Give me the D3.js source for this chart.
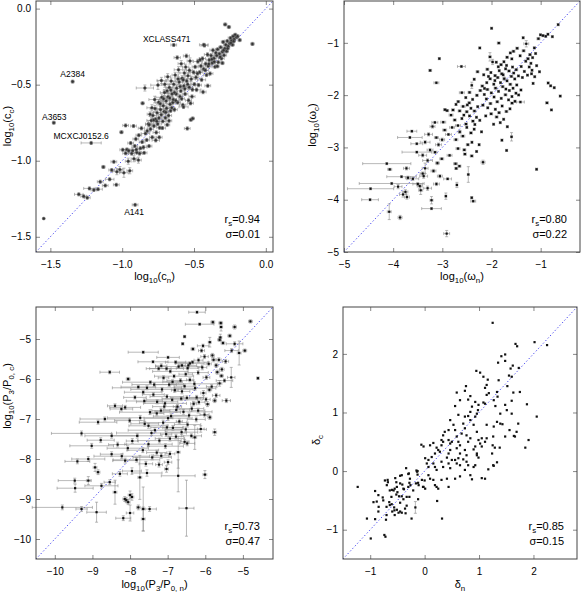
<!DOCTYPE html>
<html>
<head>
<meta charset="utf-8">
<script src="https://cdn.jsdelivr.net/npm/d3@7"></script>
<style>
	body { margin: 0; background: #fff; }
	svg text { font-family: "Liberation Sans", Arial, Helvetica, sans-serif; fill: #000; }
</style>
</head>
<body>
<svg id="chart" width="581" height="595"></svg>
<script>
	"use strict";

	// ---- data: [x, y, xerr, yerr] ----
	var concPoints = [
		[-1.302,-1.221,0.03,0.01],[-1.268,-1.234,0.02,0.01],[-1.243,-1.243,0.02,0.01],[-1.228,-1.182,0.04,0.01],[-1.197,-1.192,0.02,0.01],
		[-1.168,-1.187,0.03,0.01],[-1.153,-1.138,0.02,0.01],[-1.131,-1.041,0.012,0.01],[-1.118,-1.163,0.02,0.01],[-1.087,-1.122,0.03,0.01],
		[-1.073,-1.061,0.02,0.01],[-1.041,-1.158,0.02,0.01],
		[-1.058,-1.007,0.02,0.01],[-1.037,-1.072,0.03,0.02],[-1.016,-1.058,0.02,0.02],[-1.005,-0.812,0.012,0.01],[-0.996,-0.928,0.02,0.01],
		[-0.988,-1.079,0.03,0.03],[-0.976,-0.951,0.02,0.01],[-0.967,-0.926,0.03,0.01],[-0.958,-1.003,0.02,0.02],[-0.947,-1.066,0.02,0.02],
		[-0.941,-0.884,0.02,0.01],[-0.927,-0.934,0.03,0.02],[-0.918,-0.987,0.02,0.02],[-0.912,-0.903,0.02,0.01],[-0.898,-0.946,0.03,0.01],
		[-0.887,-0.996,0.02,0.02],[-0.884,-0.832,0.02,0.01],[-0.873,-0.918,0.02,0.01],[-0.858,-0.622,0.012,0.01],[-0.861,-0.877,0.02,0.01],
		[-0.847,-0.948,0.02,0.01],[-0.838,-0.821,0.03,0.01],[-0.829,-0.863,0.02,0.01],[-0.818,-0.758,0.02,0.02],[-0.813,-0.904,0.02,0.01],
		[-0.842,-0.522,0.06,0.02],[-0.976,-0.768,0.02,0.01],[-0.921,-0.772,0.02,0.01],
		[-0.955,-0.934,0.025,0.012],[-0.934,-0.952,0.02,0.012],[-0.902,-0.927,0.022,0.012],[-0.879,-0.952,0.02,0.012],[-0.852,-0.912,0.025,0.012],
		[-0.826,-0.804,0.02,0.012],[-0.866,-0.786,0.022,0.012],[-0.905,-0.857,0.02,0.012],
		[-0.803,-0.792,0.022,0.012],[-0.797,-0.735,0.031,0.018],[-0.791,-0.846,0.019,0.011],[-0.786,-0.702,0.024,0.02],[-0.779,-0.771,0.017,0.01],
		[-0.772,-0.657,0.033,0.021],[-0.768,-0.727,0.02,0.012],[-0.763,-0.814,0.022,0.011],[-0.757,-0.684,0.025,0.017],[-0.753,-0.758,0.028,0.012],
		[-0.746,-0.615,0.021,0.019],[-0.744,-0.719,0.018,0.01],[-0.739,-0.783,0.02,0.011],[-0.733,-0.664,0.034,0.02],[-0.728,-0.697,0.019,0.012],
		[-0.724,-0.583,0.042,0.022],[-0.717,-0.741,0.021,0.01],[-0.714,-0.638,0.02,0.018],[-0.708,-0.676,0.027,0.011],[-0.705,-0.552,0.03,0.02],
		[-0.699,-0.718,0.018,0.01],[-0.694,-0.607,0.023,0.017],[-0.691,-0.655,0.02,0.012],[-0.686,-0.764,0.017,0.01],[-0.681,-0.579,0.031,0.02],
		[-0.677,-0.703,0.021,0.011],[-0.672,-0.518,0.024,0.018],[-0.667,-0.628,0.02,0.012],[-0.663,-0.672,0.028,0.011],[-0.659,-0.476,0.032,0.02],
		[-0.653,-0.561,0.022,0.017],[-0.648,-0.617,0.019,0.012],
		[-0.812,-0.763,0.025,0.013],[-0.806,-0.694,0.02,0.015],[-0.793,-0.652,0.035,0.02],[-0.781,-0.733,0.022,0.012],[-0.774,-0.598,0.04,0.022],
		[-0.766,-0.866,0.026,0.011],[-0.759,-0.741,0.021,0.012],[-0.751,-0.503,0.05,0.028],[-0.742,-0.846,0.02,0.01],[-0.735,-0.625,0.024,0.016],
		[-0.727,-0.472,0.03,0.02],[-0.72,-0.785,0.022,0.01],[-0.712,-0.593,0.028,0.018],[-0.703,-0.497,0.022,0.02],[-0.697,-0.682,0.02,0.011],
		[-0.688,-0.541,0.026,0.018],[-0.683,-0.448,0.02,0.02],[-0.674,-0.737,0.019,0.011],[-0.669,-0.588,0.025,0.016],[-0.661,-0.535,0.024,0.018],
		[-0.655,-0.652,0.02,0.012],
		[-0.644,-0.598,0.022,0.011],[-0.641,-0.497,0.031,0.019],[-0.636,-0.664,0.02,0.011],[-0.631,-0.437,0.022,0.018],[-0.624,-0.562,0.018,0.012],
		[-0.621,-0.523,0.041,0.02],[-0.614,-0.618,0.02,0.011],[-0.608,-0.402,0.03,0.02],[-0.603,-0.483,0.022,0.018],[-0.598,-0.577,0.019,0.011],
		[-0.592,-0.541,0.027,0.012],[-0.589,-0.362,0.022,0.02],[-0.583,-0.458,0.02,0.017],[-0.578,-0.633,0.022,0.011],[-0.571,-0.508,0.018,0.012],
		[-0.567,-0.423,0.031,0.02],[-0.562,-0.561,0.02,0.011],[-0.558,-0.384,0.022,0.019],[-0.551,-0.476,0.028,0.012],[-0.547,-0.788,0.02,0.011],
		[-0.542,-0.442,0.019,0.018],[-0.538,-0.603,0.021,0.011],[-0.533,-0.517,0.022,0.012],[-0.528,-0.344,0.02,0.02],[-0.522,-0.731,0.012,0.01],
		[-0.509,-0.722,0.012,0.01],[-0.519,-0.463,0.029,0.018],[-0.514,-0.578,0.021,0.011],[-0.503,-0.418,0.02,0.012],[-0.498,-0.497,0.022,0.011],
		[-0.573,-0.646,0.032,0.011],[-0.524,-0.622,0.02,0.011],[-0.482,-0.534,0.03,0.012],[-0.553,-0.311,0.021,0.012],[-0.617,-0.322,0.022,0.012],
		[-0.636,-0.552,0.02,0.013],[-0.627,-0.604,0.025,0.012],[-0.611,-0.462,0.022,0.015],[-0.596,-0.512,0.028,0.014],[-0.586,-0.593,0.02,0.012],
		[-0.575,-0.468,0.025,0.016],[-0.564,-0.527,0.02,0.013],[-0.544,-0.498,0.022,0.014],[-0.532,-0.406,0.02,0.016],[-0.511,-0.532,0.025,0.012],
		[-0.492,-0.383,0.021,0.011],[-0.486,-0.452,0.02,0.012],[-0.473,-0.348,0.031,0.012],[-0.468,-0.503,0.02,0.011],[-0.461,-0.418,0.022,0.012],
		[-0.452,-0.377,0.019,0.011],[-0.447,-0.468,0.028,0.012],[-0.441,-0.328,0.021,0.011],[-0.433,-0.397,0.02,0.012],[-0.427,-0.242,0.024,0.011],
		[-0.419,-0.363,0.029,0.012],[-0.413,-0.436,0.02,0.011],[-0.406,-0.302,0.022,0.012],[-0.401,-0.378,0.019,0.011],[-0.394,-0.338,0.021,0.012],
		[-0.388,-0.427,0.02,0.011],[-0.381,-0.309,0.022,0.012],[-0.373,-0.357,0.018,0.011],[-0.368,-0.273,0.021,0.012],[-0.361,-0.327,0.019,0.011],
		[-0.354,-0.382,0.02,0.012],[-0.348,-0.291,0.022,0.011],[-0.404,-0.507,0.02,0.011],[-0.437,-0.548,0.021,0.012],[-0.476,-0.427,0.022,0.012],
		[-0.458,-0.337,0.02,0.012],[-0.422,-0.405,0.024,0.012],[-0.397,-0.364,0.02,0.012],[-0.376,-0.333,0.021,0.012],[-0.359,-0.349,0.02,0.012],
		[-0.342,-0.308,0.018,0.011],[-0.336,-0.268,0.014,0.01],[-0.331,-0.352,0.02,0.011],[-0.323,-0.297,0.017,0.01],[-0.315,-0.254,0.013,0.01],
		[-0.309,-0.328,0.019,0.011],[-0.302,-0.283,0.016,0.01],[-0.297,-0.219,0.013,0.01],[-0.291,-0.306,0.018,0.011],[-0.286,-0.262,0.014,0.01],
		[-0.279,-0.238,0.016,0.01],[-0.283,-0.104,0.012,0.01],[-0.273,-0.281,0.013,0.01],[-0.268,-0.213,0.017,0.01],[-0.262,-0.247,0.012,0.01],
		[-0.257,-0.121,0.012,0.01],[-0.251,-0.228,0.013,0.01],[-0.246,-0.193,0.016,0.01],[-0.239,-0.212,0.012,0.01],[-0.232,-0.238,0.013,0.01],
		[-0.227,-0.182,0.012,0.01],[-0.221,-0.201,0.012,0.01],[-0.213,-0.172,0.011,0.01],[-0.204,-0.188,0.012,0.01],[-0.182,-0.207,0.012,0.01],
		[-0.338,-0.379,0.013,0.01],[-0.302,-0.358,0.012,0.01],[-0.093,-0.232,0.012,0.01],[-0.318,-0.318,0.015,0.01],[-0.294,-0.274,0.014,0.01],
		[-0.266,-0.262,0.014,0.01],[-0.243,-0.226,0.013,0.01],[-0.224,-0.214,0.012,0.01],[-0.197,-0.181,0.012,0.01],
		[-0.432,-0.238,0.03,0.01],
		[-1.345,-0.48,0.01,0.01],[-1.476,-0.75,0.01,0.01],[-1.216,-0.883,0.07,0.01],[-0.91,-1.29,0.02,0.01],
		[-0.641,-0.239,0.02,0.01],[-1.546,-1.38,0.005,0.005]
	];

	var omegaPoints = [
		[-0.644,-0.652,0.02,0.02],[-0.953,-0.862,0.02,0.02],[-0.897,-0.874,0.02,0.02],[-1.004,-0.847,0.02,0.02],[-0.852,-0.836,0.02,0.02],
		[-0.762,-0.882,0.02,0.02],[-1.356,-0.903,0.02,0.02],[-1.046,-0.921,0.03,0.02],[-1.128,-1.097,0.02,0.02],[-1.103,-1.204,0.02,0.02],
		[-1.217,-1.226,0.03,0.02],[-1.164,-1.283,0.02,0.02],[-1.293,-1.018,0.05,0.06],[-1.258,-1.304,0.03,0.02],[-1.198,-1.392,0.02,0.02],
		[-1.082,-1.437,0.02,0.02],[-1.024,-1.553,0.02,0.02],[-1.176,-1.524,0.02,0.02],[-1.303,-1.352,0.02,0.02],[-1.347,-1.152,0.03,0.02],
		[-1.418,-1.248,0.02,0.02],[-1.396,-1.453,0.02,0.02],[-1.332,-1.547,0.02,0.02],[-1.268,-1.618,0.02,0.02],[-1.121,-1.648,0.02,0.02],
		[-1.154,-1.776,0.02,0.02],[-0.848,-1.768,0.02,0.02],[-0.797,-1.822,0.02,0.02],[-0.724,-1.858,0.02,0.02],[-0.602,-2.018,0.02,0.02],
		[-0.872,-2.148,0.03,0.02],[-0.781,-2.283,0.02,0.02],[-1.412,-2.132,0.08,0.02],[-1.523,-2.118,0.02,0.02],[-1.083,-3.418,0.02,0.02],
		[-1.233,-1.462,0.02,0.02],[-1.372,-1.663,0.02,0.02],[-1.186,-1.592,0.02,0.02],
		[-1.478,-1.104,0.03,0.02],[-1.553,-1.162,0.03,0.02],[-1.617,-1.193,0.02,0.02],[-1.852,-1.004,0.03,0.02],[-1.998,-0.722,0.02,0.02],
		[-1.586,-1.307,0.02,0.02],[-1.683,-1.276,0.03,0.02],[-1.747,-1.362,0.02,0.02],[-1.806,-1.418,0.03,0.02],[-1.903,-1.371,0.02,0.02],
		[-2.031,-1.268,0.03,0.08],[-1.978,-1.366,0.02,0.05],[-2.238,-1.098,0.02,0.02],[-1.497,-1.514,0.03,0.02],[-1.572,-1.463,0.02,0.02],
		[-1.644,-1.538,0.03,0.02],[-1.713,-1.497,0.02,0.02],[-1.792,-1.592,0.03,0.02],[-1.843,-1.533,0.02,0.02],[-1.927,-1.627,0.03,0.02],
		[-2.012,-1.568,0.02,0.02],[-2.084,-1.506,0.03,0.02],[-2.158,-1.611,0.02,0.02],[-1.452,-1.633,0.02,0.02],[-1.527,-1.691,0.02,0.02],
		[-1.596,-1.642,0.03,0.02],[-1.684,-1.727,0.02,0.02],[-1.741,-1.686,0.03,0.03],[-1.817,-1.762,0.02,0.02],[-1.874,-1.664,0.03,0.02],
		[-1.953,-1.791,0.02,0.02],[-2.027,-1.688,0.03,0.02],[-2.096,-1.762,0.02,0.02],[-2.187,-1.826,0.03,0.02],[-1.486,-1.806,0.02,0.02],
		[-1.562,-1.868,0.02,0.02],[-1.618,-1.793,0.03,0.02],[-1.707,-1.884,0.02,0.02],[-1.773,-1.838,0.03,0.02],[-1.857,-1.928,0.02,0.02],
		[-1.918,-1.866,0.03,0.02],[-2.004,-1.957,0.02,0.02],[-2.083,-1.892,0.03,0.02],[-2.146,-1.988,0.02,0.02],[-2.227,-1.912,0.03,0.02],
		[-1.503,-1.963,0.02,0.02],[-1.584,-2.027,0.02,0.02],[-1.653,-2.091,0.02,0.02],[-1.716,-1.994,0.03,0.02],[-1.802,-2.062,0.02,0.02],
		[-1.883,-2.127,0.03,0.02],[-1.948,-2.036,0.02,0.02],[-2.021,-2.161,0.03,0.02],[-2.104,-2.074,0.02,0.02],[-2.176,-2.192,0.03,0.02],
		[-1.624,-2.262,0.02,0.02],[-1.697,-2.313,0.03,0.02],[-1.784,-2.208,0.02,0.02],[-1.846,-2.336,0.03,0.02],[-1.922,-2.271,0.02,0.02],
		[-2.007,-2.358,0.03,0.02],[-2.076,-2.243,0.02,0.02],[-1.753,-2.462,0.02,0.02],[-1.822,-2.526,0.02,0.02],[-1.896,-2.418,0.03,0.02],
		[-1.957,-2.557,0.02,0.02],[-1.678,-2.604,0.02,0.02],[-1.592,-2.797,0.02,0.08],[-1.788,-2.862,0.02,0.02],[-1.693,-3.058,0.02,0.02],
		[-2.172,-3.284,0.04,0.04],[-2.238,-2.482,0.02,0.02],[-2.117,-2.398,0.02,0.02],[-1.582,-2.153,0.03,0.02],[-1.448,-1.997,0.02,0.02],
		[-1.401,-1.902,0.02,0.02],[-1.637,-1.912,0.02,0.02],[-1.931,-1.722,0.02,0.02],[-2.062,-1.643,0.02,0.02],[-1.763,-1.612,0.02,0.02],
		[-1.862,-1.458,0.02,0.02],[-2.143,-1.872,0.02,0.02],[-1.548,-1.578,0.02,0.02],[-1.694,-1.432,0.02,0.02],
		[-2.284,-1.553,0.03,0.02],[-2.352,-1.697,0.02,0.02],[-2.401,-1.812,0.02,0.06],[-2.447,-1.948,0.03,0.02],[-2.612,-1.452,0.08,0.02],
		[-3.061,-1.302,0.02,0.02],[-3.248,-1.528,0.03,0.02],[-3.121,-1.764,0.05,0.02],[-2.297,-2.004,0.03,0.02],[-2.384,-2.082,0.02,0.02],
		[-2.452,-2.148,0.03,0.02],[-2.523,-2.047,0.02,0.02],[-2.604,-1.953,0.05,0.02],[-2.676,-2.124,0.03,0.02],[-2.281,-2.221,0.02,0.02],
		[-2.347,-2.304,0.03,0.02],[-2.418,-2.252,0.02,0.02],[-2.503,-2.318,0.03,0.02],[-2.577,-2.216,0.04,0.02],[-2.648,-2.302,0.03,0.02],
		[-2.722,-2.178,0.02,0.02],[-2.783,-2.284,0.03,0.02],[-2.306,-2.424,0.02,0.02],[-2.378,-2.497,0.03,0.02],[-2.447,-2.398,0.02,0.02],
		[-2.518,-2.553,0.03,0.02],[-2.602,-2.448,0.02,0.02],[-2.683,-2.582,0.05,0.02],[-2.748,-2.476,0.03,0.02],[-2.823,-2.382,0.04,0.02],
		[-2.902,-2.296,0.03,0.02],[-2.947,-2.278,0.03,0.02],[-2.353,-2.652,0.02,0.02],[-2.418,-2.723,0.03,0.02],[-2.502,-2.617,0.02,0.02],
		[-2.583,-2.784,0.04,0.02],[-2.646,-2.702,0.03,0.03],[-2.724,-2.852,0.04,0.02],[-2.801,-2.618,0.05,0.02],[-2.876,-2.752,0.06,0.02],
		[-2.953,-2.668,0.04,0.02],[-2.981,-2.517,0.05,0.02],[-3.152,-2.522,0.06,0.02],[-3.004,-2.853,0.05,0.03],[-3.078,-2.948,0.06,0.03],
		[-3.121,-2.812,0.04,0.02],[-2.398,-2.902,0.02,0.02],[-2.482,-2.948,0.03,0.02],[-2.553,-3.047,0.03,0.02],[-2.682,-3.022,0.04,0.02],
		[-2.541,-3.128,0.03,0.02],[-2.402,-3.163,0.03,0.02],[-2.303,-3.078,0.02,0.02],[-2.732,-3.312,0.04,0.02],[-2.718,-3.402,0.03,0.02],
		[-2.652,-3.358,0.03,0.02],[-2.472,-3.518,0.02,0.15],[-2.893,-3.602,0.08,0.02],[-2.704,-3.718,0.02,0.05],
		[-2.402,-3.962,0.02,0.02],[-2.372,-4.028,0.05,0.02],[-2.928,-3.932,0.02,0.06],[-2.912,-4.648,0.06,0.06],[-3.148,-3.092,0.04,0.02],
		[-3.012,-3.218,0.04,0.02],[-2.853,-3.152,0.05,0.02],[-2.252,-2.948,0.02,0.02],[-2.203,-2.702,0.02,0.02],[-2.338,-2.562,0.02,0.02],
		[-2.562,-2.382,0.02,0.02],[-2.492,-2.188,0.02,0.02],
		[-3.20,-2.60,0.05,0.03],[-3.28,-2.75,0.08,0.03],[-3.35,-2.90,0.10,0.03],[-3.62,-2.69,0.10,0.02],[-3.66,-2.81,0.25,0.02],
		[-3.52,-2.93,0.12,0.02],[-3.52,-3.09,0.30,0.02],[-3.25,-3.05,0.06,0.03],[-3.40,-3.15,0.08,0.03],[-3.30,-3.25,0.10,0.03],
		[-3.73,-3.40,0.06,0.03],[-4.13,-3.31,0.49,0.02],[-4.07,-3.42,0.04,0.02],[-3.83,-3.56,0.30,0.02],[-4.03,-3.69,0.66,0.02],
		[-3.46,-3.74,0.05,0.04],[-3.44,-3.82,0.04,0.08],[-3.75,-3.85,0.05,0.04],[-3.72,-3.95,0.05,0.04],[-3.22,-4.01,0.03,0.07],
		[-3.22,-4.17,0.20,0.02],[-4.46,-3.79,0.47,0.02],[-4.47,-4.00,0.17,0.02],[-4.08,-4.23,0.04,0.15],[-3.86,-4.34,0.04,0.04],
		[-3.35,-3.40,0.06,0.10],[-3.38,-3.55,0.08,0.04],[-3.60,-3.60,0.12,0.03],[-3.70,-3.58,0.05,0.03],[-3.90,-3.75,0.08,0.04],
		[-3.10,-3.30,0.04,0.03],[-3.18,-3.45,0.05,0.03],[-3.05,-3.55,0.05,0.03],[-3.12,-3.70,0.06,0.03],[-3.50,-3.70,0.10,0.03],
		[-3.30,-3.78,0.08,0.04],[-3.80,-3.90,0.07,0.05],[-3.40,-3.50,0.05,0.03]
	];

	var powerPoints = [
		[-6.22,-4.33,0.22,0.03],[-6.15,-4.63,0.38,0.03],[-5.80,-4.58,0.05,0.04],[-5.59,-4.60,0.05,0.04],[-5.58,-4.70,0.04,0.10],
		[-5.22,-4.70,0.05,0.05],[-4.80,-4.56,0.05,0.04],[-5.35,-4.92,0.05,0.04],[-5.60,-4.96,0.04,0.08],[-5.62,-5.02,0.05,0.04],
		[-6.55,-4.94,0.03,0.03],[-6.60,-5.12,0.03,0.03],[-5.88,-5.08,0.04,0.12],[-6.06,-5.17,0.15,0.04],[-6.33,-5.25,0.05,0.04],
		[-6.10,-5.29,0.08,0.04],[-5.53,-5.10,0.05,0.04],[-5.22,-5.12,0.22,0.05],[-5.30,-5.29,0.18,0.05],[-4.95,-5.29,0.05,0.04],
		[-5.10,-5.35,0.05,0.30],[-7.65,-5.33,0.40,0.03],[-6.99,-5.46,0.30,0.03],[-7.39,-5.57,0.40,0.03],[-7.17,-5.67,0.15,0.05],
		[-5.81,-5.41,0.05,0.05],[-5.64,-5.52,0.06,0.05],[-5.46,-5.56,0.08,0.05],[-5.71,-5.66,0.05,0.05],[-6.02,-5.44,0.10,0.05],
		[-6.18,-5.53,0.12,0.05],[-6.41,-5.61,0.38,0.04],[-6.62,-5.66,0.09,0.04],[-6.79,-5.58,0.27,0.04],[-5.56,-5.76,0.06,0.05],
		[-6.47,-5.73,0.30,0.04],[-7.03,-5.74,0.45,0.04],
		[-5.91,-5.62,0.07,0.05],[-6.34,-5.58,0.42,0.04],[-6.08,-5.71,0.12,0.06],[-5.68,-5.83,0.05,0.05],[-6.71,-5.69,0.61,0.04],
		[-6.52,-5.88,0.18,0.05],[-7.24,-5.74,0.33,0.04],[-5.97,-5.96,0.09,0.05],[-6.19,-5.84,0.27,0.05],[-6.83,-5.93,0.52,0.04],
		[-7.46,-6.08,0.74,0.04],[-5.62,-6.11,0.06,0.07],[-6.41,-6.02,0.09,0.05],[-5.83,-6.19,0.14,0.05],[-6.96,-6.14,0.38,0.05],
		[-6.27,-6.23,0.55,0.05],[-6.62,-6.31,0.21,0.06],[-7.15,-6.26,0.83,0.05],[-6.05,-6.35,0.07,0.06],[-5.71,-6.41,0.10,0.05],
		[-6.49,-6.47,0.44,0.05],[-7.38,-6.39,0.29,0.05],[-6.88,-6.52,0.68,0.05],[-6.17,-6.58,0.16,0.05],[-7.62,-6.55,0.48,0.05],
		[-5.94,-6.63,0.05,0.06],[-6.74,-6.69,0.11,0.05],[-7.07,-6.61,0.57,0.05],[-6.36,-6.74,0.32,0.06],[-8.13,-6.71,0.41,0.05],
		[-6.58,-6.82,0.76,0.06],[-7.29,-6.86,0.19,0.06],[-6.02,-6.89,0.12,0.06],[-6.91,-6.93,0.47,0.06],[-7.73,-6.97,0.87,0.06],
		[-6.24,-7.01,0.24,0.06],[-6.69,-7.06,0.08,0.06],[-7.12,-7.09,0.63,0.06],[-6.47,-7.14,0.35,0.06],[-7.51,-7.17,0.52,0.06],
		[-6.86,-7.22,0.27,0.06],[-6.12,-7.25,0.09,0.08],[-7.34,-7.28,0.71,0.06],[-6.63,-7.33,0.43,0.06],[-7.04,-7.38,0.15,0.06],
		[-7.81,-7.42,0.66,0.06],[-6.94,-7.49,0.39,0.06],[-7.22,-7.54,0.58,0.06],[-6.55,-7.57,0.12,0.06],
		[-5.78,-5.52,0.05,0.05],[-6.45,-5.66,0.22,0.05],[-6.93,-5.81,0.47,0.04],[-7.11,-5.97,0.14,0.05],[-6.66,-6.04,0.36,0.05],
		[-6.29,-6.12,0.62,0.05],[-7.55,-6.22,0.92,0.05],[-6.81,-6.28,0.09,0.05],[-5.89,-6.27,0.06,0.05],[-6.55,-6.18,0.28,0.05],
		[-7.02,-6.44,0.45,0.05],[-6.23,-6.46,0.19,0.05],[-7.28,-6.57,0.55,0.05],[-6.77,-6.77,0.35,0.06],[-6.43,-6.91,0.48,0.06],
		[-7.47,-6.83,0.81,0.06],[-6.31,-6.62,0.08,0.05],[-7.18,-6.79,0.24,0.06],[-6.99,-6.98,0.64,0.06],[-7.61,-7.12,0.37,0.06],
		[-6.52,-7.26,0.55,0.06],[-7.43,-7.35,0.93,0.06],[-6.78,-7.44,0.21,0.06],[-7.02,-7.21,0.43,0.06],[-6.19,-6.79,0.18,0.06],
		[-6.87,-6.07,0.26,0.05],[-7.36,-6.14,0.59,0.05],[-5.98,-6.51,0.11,0.05],[-6.64,-6.49,0.51,0.05],[-7.09,-6.69,0.31,0.06],
		[-8.40,-6.67,0.20,0.05],[-8.23,-6.75,0.30,0.05],[-8.01,-7.04,0.40,0.05],[-8.67,-7.00,0.66,0.05],[-8.85,-7.08,0.50,0.05],
		[-5.88,-6.96,0.05,0.05],[-5.75,-7.33,0.05,0.08],[-6.37,-7.42,0.27,0.05],[-6.28,-7.46,0.05,0.30],[-8.54,-5.83,0.26,0.04],
		[-8.05,-6.00,0.05,0.04],[-4.60,-5.98,0.03,0.03],[-5.49,-6.04,0.22,0.04],[-5.57,-5.92,0.05,0.04],[-5.31,-5.96,0.10,0.25],
		[-7.78,-6.20,0.46,0.04],[-7.65,-6.33,0.50,0.04],[-7.87,-6.46,0.30,0.04],[-5.44,-6.54,0.11,0.05],[-5.75,-6.54,0.05,0.05],
		[-9.29,-7.36,0.80,0.06],[-9.02,-7.67,0.58,0.06],[-8.78,-7.53,0.36,0.06],[-8.49,-7.42,0.71,0.06],[-8.33,-7.64,0.24,0.06],
		[-8.06,-7.73,0.55,0.06],[-7.94,-7.55,0.16,0.06],[-7.66,-7.78,0.42,0.06],[-7.51,-7.63,0.63,0.06],[-7.29,-7.84,0.27,0.06],
		[-7.06,-7.68,0.48,0.06],[-6.94,-7.87,0.13,0.06],[-6.72,-7.83,0.05,0.40],[-7.17,-7.92,0.20,0.06],[-8.49,-7.88,0.30,0.06],
		[-9.40,-8.06,0.33,0.06],[-9.11,-8.00,0.44,0.06],[-8.93,-8.21,0.05,0.10],[-8.85,-8.33,0.05,0.06],[-6.99,-8.08,0.10,0.06],
		[-7.03,-8.25,0.05,0.08],[-6.72,-8.42,0.45,0.40],[-6.01,-8.39,0.05,0.10],[-7.74,-8.46,0.05,0.55],[-8.27,-8.37,0.20,0.06],
		[-8.54,-8.58,0.15,0.06],[-9.47,-8.54,0.44,0.06],[-9.11,-8.54,0.05,0.10],[-8.76,-8.67,0.44,0.06],[-9.46,-8.73,0.48,0.10],
		[-7.83,-8.02,0.62,0.06],[-7.58,-8.12,0.18,0.06],[-7.41,-7.96,0.51,0.06],[-7.23,-8.14,0.09,0.06],[-8.13,-8.04,0.33,0.06],
		[-8.22,-7.93,0.74,0.06],[-7.55,-8.35,0.40,0.08],[-7.95,-8.30,0.25,0.08],[-6.48,-7.61,0.20,0.06],
		[-8.40,-8.83,0.05,0.30],[-8.00,-8.90,0.05,0.10],[-7.95,-8.95,0.05,0.08],[-8.14,-9.00,0.05,0.06],[-8.10,-9.03,0.05,0.06],
		[-8.05,-9.08,0.05,0.06],[-7.78,-9.21,0.05,0.06],[-7.65,-9.25,0.05,0.55],[-7.48,-9.25,0.18,0.06],[-8.18,-9.48,0.20,0.06],
		[-8.89,-9.33,0.26,0.25],[-9.29,-9.25,0.15,0.06],[-9.80,-9.21,0.80,0.06],[-6.50,-9.23,0.20,0.70],[-7.65,-9.50,0.05,0.30],
		[-8.00,-9.35,0.10,0.20]
	];

	var deltaPoints = [
		[-1.23,-0.27],[-0.99,-1.15],[-0.91,-0.82],[-0.85,-0.69],[-0.88,-0.52],[-0.77,-0.45],[-0.70,-0.61],[-0.70,-0.75],
		[-0.71,-0.83],[-0.72,-1.12],[-0.68,-0.15],[-0.675,-0.19],[-0.60,-0.32],[-0.65,-0.53],[-0.605,-0.565],[-0.57,-0.33],
		[-0.54,-0.12],[-0.51,-0.27],[-0.50,-0.36],[-0.52,-0.40],[-0.47,-0.43],[-0.56,-0.62],[-0.51,-0.66],[-0.55,-0.75],
		[-0.595,-0.69],[-0.48,-0.71],[-0.42,-0.71],[-0.35,-0.72],[-0.33,-0.59],[-0.45,-0.54],[-0.39,-0.48],[-0.42,-0.43],
		[-0.38,-0.31],[-0.41,-0.23],[-0.45,-0.08],[-0.34,0.05],[-0.29,-0.04],[-0.28,-0.20],[-0.30,-0.27],[-0.28,-0.44],
		[-0.21,-0.33],[-0.13,0.00],[-0.13,-0.06],[-0.12,-0.20],[-0.12,-0.48],[-0.24,-0.81],[-0.03,-0.27],[0.0,-0.16],
		[-0.73,-0.16],[-0.695,-0.24],[-0.64,-0.33],[-0.91,-0.34],[-0.85,-0.41],[-0.94,-0.53],[-0.845,-0.61],[-0.76,-0.50],
		[-0.61,-0.44],[-0.55,-0.30],[-0.52,-0.19],[-0.42,-0.07],[-0.45,-0.21],[-0.39,-0.30],[-0.33,-0.44],[-0.30,-0.05],
		[-0.27,-0.13],[-0.26,-0.24],[-0.15,0.01],[-0.16,-0.21],[-0.64,-0.58],[-0.555,-0.67],[-0.45,-0.69],[-0.36,-0.64],
		[-1.06,-0.81],[-0.74,-1.09],
		[0.95,1.71],[1.08,1.61],[1.02,1.68],[1.36,1.55],[1.16,1.56],[1.14,1.47],[1.60,1.61],[0.76,1.45],
		[0.59,1.34],[0.84,1.28],[0.80,1.22],[0.74,1.37],[1.14,1.30],[1.18,1.33],[1.33,1.35],[1.34,1.27],
		[1.63,1.34],[1.27,1.21],[1.30,1.11],[1.08,1.17],[1.11,1.15],[0.93,1.18],[0.99,1.13],[0.87,1.10],
		[0.84,1.01],[0.98,1.04],[0.96,0.98],[0.56,1.11],[0.65,1.21],[1.48,1.13],[1.51,1.04],[1.88,1.14],
		[1.60,1.20],[1.39,0.98],[1.60,0.98],[0.62,0.96],[0.74,0.93],[0.80,0.94],[0.84,0.87],[0.90,0.79],
		[0.93,0.93],[0.47,0.87],[0.53,0.79],[0.44,0.70],[0.71,0.81],[0.74,0.73],[0.68,0.64],[0.77,0.61],
		[0.56,0.70],[0.59,0.59],[0.37,0.67],[0.34,0.61],[0.31,0.53],[0.44,0.53],[0.47,0.47],[0.50,0.50],
		[0.62,0.50],[0.65,0.44],[0.59,0.39],[0.80,0.50],[0.84,0.56],[0.99,0.53],[1.05,0.56],[1.11,0.50],
		[1.14,0.56],[0.96,0.67],[1.14,0.79],[1.33,0.84],[1.39,0.81],[1.43,0.80],[1.27,0.76],[1.48,0.59],
		[1.26,0.59],[1.72,0.81],[1.69,0.67],[1.66,0.59],[1.91,0.53],[2.06,0.93],[1.85,0.40],[1.29,0.40],
		[1.02,0.47],[1.05,0.42],[0.90,0.37],[0.93,0.42],[0.96,0.30],[0.74,0.36],[0.77,0.27],[0.71,0.20],
		[0.65,0.30],[0.62,0.22],[0.56,0.19],[0.47,0.36],[0.44,0.30],[0.41,0.23],[0.50,0.19],[0.28,0.33],
		[0.25,0.36],[0.22,0.40],[0.31,0.44],[0.34,0.50],[0.16,0.48],[0.10,0.44],[-0.02,0.42],[0.19,0.30],
		[0.13,0.24],[0.07,0.19],[0.01,0.22],[0.04,0.13],[0.07,0.07],[0.16,0.13],[0.19,0.07],[0.22,0.02],
		[0.31,0.16],[0.34,0.07],[0.44,0.13],[0.47,0.05],[0.59,0.13],[0.65,0.10],[0.77,0.16],[0.80,0.10],
		[0.74,0.02],[0.90,0.07],[0.93,0.10],[0.96,0.27],[0.99,0.23],[1.26,0.10],[0.07,-0.07],[0.10,-0.13],
		[0.16,-0.15],[0.19,-0.24],[0.22,-0.27],[0.25,-0.30],[-0.02,-0.27],[-0.05,-0.15],[-0.11,-0.24],[-0.14,-0.01],
		[0.31,-0.15],[0.41,-0.13],[0.44,-0.27],[0.56,-0.13],[0.65,-0.09],[0.84,-0.07],[1.11,-0.13],[1.17,0.03],
		[1.27,0.09],[0.87,-0.14],[0.01,-0.30],
		[0.23,-0.51],[0.32,-0.81],[1.25,2.53],[1.41,1.96],[1.48,1.99],[1.48,1.88],[1.35,1.85],[1.67,2.17],
		[1.70,2.13],[1.73,1.76],[2.02,2.20],[2.25,2.15],[1.62,1.80],[1.58,1.75],[1.55,1.63],[1.52,1.45],
		[1.75,1.35],[1.64,0.60],[1.56,0.70],[1.33,0.15],[1.05,-0.12],[-0.06,0.45],[1.11,1.42],[1.25,0.44],
		[1.24,0.30],[1.38,0.40]
	];
	// the one delta point drawn with an error bar
	var deltaErrPoints = [[-0.17,-0.62,0.0,0.10]];

	var concTicks = [-1.5, -1.0, -0.5, 0.0];
	var omegaTicks = [-5, -4, -3, -2, -1];
	var powerTicks = [-10, -9, -8, -7, -6, -5];
	var deltaTicks = [-1, 0, 1, 2];

	var clusterNames = ["A2384", "A3653", "MCXCJ0152.6", "XCLASS471", "A141"];
	var clusterX = [-1.345, -1.476, -1.216, -0.641, -0.91];
	var clusterY = [-0.48, -0.75, -0.883, -0.239, -1.29];

	var statR = ["0.94", "0.80", "0.73", "0.85"];
	var statSigma = ["0.01", "0.22", "0.47", "0.15"];

	// ---- layout ----
	var svg = d3.select("#chart");
	svg.append("rect").attr("width", 581).attr("height", 595).attr("fill", "#fff");

	var panels = [{
		left: 36, top: 1, width: 237, height: 251,
		domain: [-1.6, 0.05], ticks: concTicks, fmt: d3.format(".1f"),
		points: concPoints, marker: "circle",
		xLabel: [["log"], ["10", 1], ["(c"], ["n", 1], [")"]],
		yLabel: [["log"], ["10", 1], ["(c"], ["c", 1], [")"]],
		xLabelY: 280, yLabelX: 11, yLabelMid: 126,
		labelOffsets: [[0, -4.5], [0.5, -3], [-10, -3.5], [-7, -2.7], [-1, 10]]
	}, {
		left: 344, top: 1, width: 236, height: 251,
		domain: [-5, -0.2], ticks: omegaTicks, fmt: d3.format("d"),
		points: omegaPoints, marker: "square",
		xLabel: [["log"], ["10", 1], ["(\u03c9"], ["n", 1], [")"]],
		yLabel: [["log"], ["10", 1], ["(\u03c9"], ["c", 1], [")"]],
		xLabelY: 280, yLabelX: 316, yLabelMid: 125
	}, {
		left: 36, top: 307, width: 237, height: 252,
		domain: [-10.5, -4.2], ticks: powerTicks, fmt: d3.format("d"),
		points: powerPoints, marker: "square",
		xLabel: [["log"], ["10", 1], ["(P"], ["3", 1], ["/P"], ["0, n", 1], [")"]],
		yLabel: [["log"], ["10", 1], ["(P"], ["3", 1], ["/P"], ["0, c", 1], [")"]],
		xLabelY: 588, yLabelX: 11, yLabelMid: 396
	}, {
		left: 343, top: 307, width: 234, height: 252,
		domain: [-1.5, 2.8], ticks: deltaTicks, fmt: d3.format("d"),
		points: deltaErrPoints.concat(deltaPoints.map(function(d) { return [d[0], d[1], 0, 0]; })),
		marker: "square",
		xLabel: [["\u03b4"], ["n", 1]],
		yLabel: [["\u03b4"], ["c", 1]],
		xLabelY: 588, yLabelX: 320, yLabelMid: 440
	}];

	// write a label made of normal and subscript pieces
	function richText(sel, parts, size) {
		var down = false;
		parts.forEach(function(p) {
			var sub = !!p[1];
			var t = sel.append("tspan").text(p[0]);
			if (sub) {
				t.attr("font-size", size * 0.72);
			}
			if (sub !== down) {
				t.attr("dy", sub ? size * 0.3 : -size * 0.3);
				down = sub;
			}
		});
	}

	function styleAxis(g) {
		g.select(".domain").remove();
		g.selectAll(".tick line").attr("stroke", "#888").attr("stroke-width", 1);
		g.selectAll(".tick text").attr("font-size", 10).attr("fill", "#000");
	}

	panels.forEach(function(p, i) {
		var x = d3.scaleLinear().domain(p.domain).range([p.left, p.left + p.width]);
		var y = d3.scaleLinear().domain(p.domain).range([p.top + p.height, p.top]);
		var g = svg.append("g").attr("class", "panel");

		// ticks on all four sides, pointing inward
		g.append("g").attr("transform", "translate(0," + (p.top + p.height) + ")")
			.call(d3.axisBottom(x).tickValues(p.ticks).tickFormat(p.fmt).tickSizeInner(-4).tickSizeOuter(0).tickPadding(9))
			.call(styleAxis);
		g.append("g").attr("transform", "translate(0," + p.top + ")")
			.call(d3.axisTop(x).tickValues(p.ticks).tickFormat("").tickSizeInner(-4).tickSizeOuter(0))
			.call(styleAxis);
		g.append("g").attr("transform", "translate(" + p.left + ",0)")
			.call(d3.axisLeft(y).tickValues(p.ticks).tickFormat(p.fmt).tickSizeInner(-4).tickSizeOuter(0).tickPadding(5))
			.call(styleAxis);
		g.append("g").attr("transform", "translate(" + (p.left + p.width) + ",0)")
			.call(d3.axisRight(y).tickValues(p.ticks).tickFormat("").tickSizeInner(-4).tickSizeOuter(0))
			.call(styleAxis);

		// one-to-one line
		g.append("line")
			.attr("x1", x(p.domain[0])).attr("y1", y(p.domain[0]))
			.attr("x2", x(p.domain[1])).attr("y2", y(p.domain[1]))
			.attr("stroke", "#3b3bf0").attr("stroke-width", 1)
			.attr("stroke-dasharray", "1.2,2.3");

		// error bars
		var cap = 1.5;
		var eb = g.append("g").attr("stroke", "#8a8a8a").attr("stroke-width", 0.6).attr("fill", "none");
		p.points.forEach(function(d) {
			var cx = x(d[0]), cy = y(d[1]);
			var x0 = x(d[0] - d[2]), x1 = x(d[0] + d[2]);
			var y0 = y(d[1] - d[3]), y1 = y(d[1] + d[3]);
			var path = "";
			if (x1 - x0 > 1.5) {
				path += "M" + x0 + "," + cy + "H" + x1 +
					"M" + x0 + "," + (cy - cap) + "V" + (cy + cap) +
					"M" + x1 + "," + (cy - cap) + "V" + (cy + cap);
			}
			if (y0 - y1 > 1.5) {
				path += "M" + cx + "," + y0 + "V" + y1 +
					"M" + (cx - cap) + "," + y0 + "H" + (cx + cap) +
					"M" + (cx - cap) + "," + y1 + "H" + (cx + cap);
			}
			if (path) {
				eb.append("path").attr("d", path);
			}
		});

		// points
		if (p.marker === "circle") {
			g.append("g").selectAll("circle")
				.data(p.points)
				.join("circle")
				.attr("cx", function(d) { return x(d[0]); })
				.attr("cy", function(d) { return y(d[1]); })
				.attr("r", 1.5)
				.attr("fill", "#333")
				.attr("stroke", "#777").attr("stroke-width", 0.5);
		} else {
			g.append("g").selectAll("rect")
				.data(p.points)
				.join("rect")
				.attr("x", function(d) { return x(d[0]) - 1.1; })
				.attr("y", function(d) { return y(d[1]) - 1.1; })
				.attr("width", 2.2).attr("height", 2.2)
				.attr("fill", "#111");
		}

		// frame
		g.append("rect")
			.attr("x", p.left).attr("y", p.top)
			.attr("width", p.width).attr("height", p.height)
			.attr("fill", "none").attr("stroke", "#444").attr("stroke-width", 1);

		// axis titles
		richText(g.append("text")
			.attr("x", p.left + p.width / 2).attr("y", p.xLabelY)
			.attr("text-anchor", "middle").attr("font-size", 11), p.xLabel, 11);
		richText(g.append("text")
			.attr("transform", "translate(" + p.yLabelX + "," + p.yLabelMid + ") rotate(-90)")
			.attr("text-anchor", "middle").attr("font-size", 11), p.yLabel, 11);

		// statistics in the lower right corner
		var sx = p.left + p.width - 13;
		var sy = p.top + p.height - 29;
		richText(g.append("text").attr("x", sx).attr("y", sy)
			.attr("text-anchor", "end").attr("font-size", 11),
			[["r"], ["s", 1], ["=" + statR[i]]], 11);
		g.append("text").attr("x", sx).attr("y", sy + 15)
			.attr("text-anchor", "end").attr("font-size", 11)
			.text("\u03c3=" + statSigma[i]);

		// named clusters
		if (p.labelOffsets) {
			clusterNames.forEach(function(name, k) {
				g.append("text")
					.attr("x", x(clusterX[k]) + p.labelOffsets[k][0])
					.attr("y", y(clusterY[k]) + p.labelOffsets[k][1])
					.attr("text-anchor", "middle")
					.attr("font-size", 8.5)
					.text(name);
			});
		}
	});
</script>
</body>
</html>
